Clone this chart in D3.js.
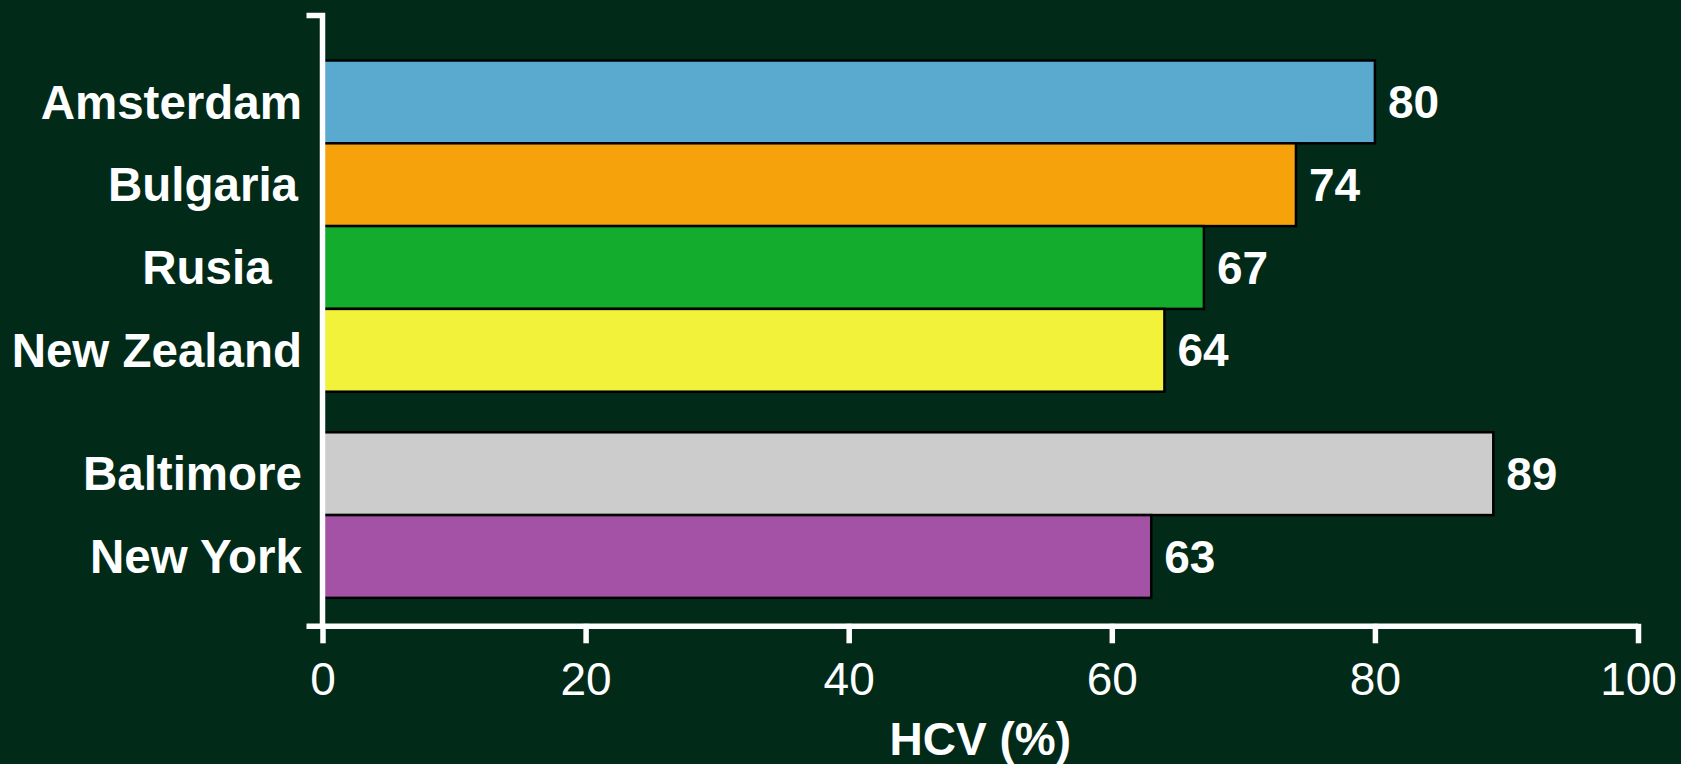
<!DOCTYPE html>
<html>
<head>
<meta charset="utf-8">
<script src="https://cdn.jsdelivr.net/npm/d3@7"></script>
<style>
  html, body { margin: 0; padding: 0; background: #012a19; }
  svg { display: block; }
  text { font-family: "Liberation Sans", Arial, sans-serif; fill: #ffffff; }
</style>
</head>
<body>
<svg id="chart" width="1681" height="764"></svg>
<script>
// HCV prevalence (%) among people who inject drugs, by site
const cities = ["Amsterdam", "Bulgaria", "Rusia", "New Zealand", "Baltimore", "New York"];
const cityLabels = ["Amsterdam", "Bulgaria\u200a", "Rusia\u00a0\u00a0\u200a", "New Zealand", "Baltimore", "New York"];
const groups = [0, 0, 0, 0, 1, 1];           // European/Pacific sites, then US sites
const hcv = [80, 74, 67, 64, 89, 63];
const colors = ["#5aaad0", "#f5a20b", "#14ac2c", "#f2f23b", "#cccccd", "#a352a5"];
const xTicks = [0, 20, 40, 60, 80, 100];
const xTitle = "HCV (%)";

const svg = d3.select("#chart");

const x = d3.scaleLinear().domain([0, 100]).range([322.5, 1638]);

// rows in "bar units"; the second group starts after a half-bar gap
const groupGap = 0.49;
const rowPos = cities.map((c, i) => i + groups[i] * groupGap);
const y = d3.scaleLinear().domain([0, 1]).range([60.5, 60.5 + 82.8]);
const barH = y(1) - y(0);

const axisTop = 15.5, axisY = 626.3;

// bars
svg.append("g").selectAll("rect")
  .data(cities)
  .join("rect")
  .attr("x", x(0))
  .attr("y", (d, i) => y(rowPos[i]))
  .attr("width", (d, i) => x(hcv[i]) - x(0))
  .attr("height", barH)
  .attr("fill", (d, i) => colors[i])
  .attr("stroke", "#000")
  .attr("stroke-width", 2.5);

// value labels
svg.append("g").selectAll("text")
  .data(cities)
  .join("text")
  .attr("x", (d, i) => x(hcv[i]) + 13)
  .attr("y", (d, i) => y(rowPos[i] + 0.5))
  .attr("dy", "0.35em")
  .attr("font-size", 46)
  .attr("font-weight", "bold")
  .text((d, i) => hcv[i]);

// category labels
svg.append("g").selectAll("text")
  .data(cities)
  .join("text")
  .attr("x", 302)
  .attr("y", (d, i) => y(rowPos[i] + 0.5))
  .attr("dy", "0.35em")
  .attr("text-anchor", "end")
  .attr("font-size", 47.5)
  .attr("font-weight", "bold")
  .style("white-space", "pre")
  .text((d, i) => cityLabels[i]);

// x axis
const xAxis = d3.axisBottom(x)
  .tickValues(xTicks)
  .tickSize(17)
  .tickPadding(19)
  .tickFormat(d3.format("d"));
const gx = svg.append("g").attr("transform", `translate(0,${axisY})`).call(xAxis);
gx.select(".domain").attr("d", `M${x(0) - 16},0H${x(100)}`)
  .attr("stroke", "#fff").attr("stroke-width", 5.5);
gx.selectAll(".tick line").attr("stroke", "#fff").attr("stroke-width", 5.5).attr("y1", -2.5);
gx.selectAll(".tick text")
  .attr("fill", "#fff")
  .attr("font-size", 46)
  .attr("font-family", "'Liberation Sans', Arial, sans-serif");

// y axis: vertical line with short caps at each end
svg.append("path")
  .attr("d", `M${x(0) - 16},${axisTop}H${x(0)}V${axisY}`)
  .attr("fill", "none")
  .attr("stroke", "#fff")
  .attr("stroke-width", 5.5);

// axis title
svg.append("text")
  .attr("x", (x(0) + x(100)) / 2)
  .attr("y", 755)
  .attr("text-anchor", "middle")
  .attr("font-size", 46)
  .attr("font-weight", "bold")
  .text(xTitle);
</script>
</body>
</html>
